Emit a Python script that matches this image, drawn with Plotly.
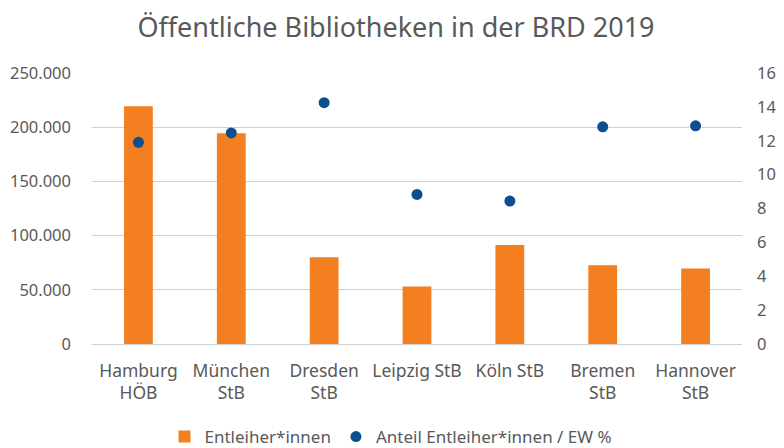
import plotly.graph_objects as go

categories = ["Hamburg<br>HÖB", "München<br>StB", "Dresden<br>StB", "Leipzig StB",
              "Köln StB", "Bremen<br>StB", "Hannover<br>StB"]
entleiher = [219300, 194400, 80000, 53000, 91400, 72700, 69600]
anteil_pct = [11.91, 12.46, 14.25, 8.83, 8.44, 12.82, 12.88]

FONT = "Noto Sans"
GRAY = "#595959"
W, H = 776, 440  # page body has an 8px margin

fig = go.Figure()
fig.add_trace(go.Bar(
    x=categories, y=entleiher, name="Entleiher*innen",
    marker=dict(color="#F47F20", line=dict(width=0)),
    width=0.31, yaxis="y",
))
fig.add_trace(go.Scatter(
    x=categories, y=anteil_pct, name="Anteil Entleiher*innen / EW %",
    mode="markers", marker=dict(color="#0C4E8E", size=11),
    yaxis="y2",
))

fig.update_layout(
    width=W, height=H,
    paper_bgcolor="white", plot_bgcolor="white",
    separators=",.",
    margin=dict(l=84, r=42, t=65, b=104),
    title=dict(text="Öffentliche Bibliotheken in der BRD 2019",
               x=0.5, xanchor="center", y=1 - 20 / H, yanchor="middle",
               font=dict(family=FONT, size=27, color=GRAY)),
    font=dict(family=FONT, size=16.5, color=GRAY),
    xaxis=dict(showgrid=False, ticks="", showline=False, automargin=False,
               ticklabelstandoff=14,
               tickfont=dict(family=FONT, size=17.5, color=GRAY)),
    yaxis=dict(range=[0, 250000], dtick=50000, tickformat=",d",
               showgrid=True, gridcolor="#D0D0D0", gridwidth=1.3,
               zeroline=True, zerolinecolor="#D0D0D0", zerolinewidth=1.3,
               ticks="", ticklabelstandoff=20, automargin=False,
               tickfont=dict(family=FONT, size=16.5, color=GRAY)),
    yaxis2=dict(range=[0, 16], dtick=2, overlaying="y", side="right",
                showgrid=False, zeroline=False, ticks="", ticklabelstandoff=14,
                automargin=False,
                tickfont=dict(family=FONT, size=16.5, color=GRAY)),
    legend=dict(orientation="h", x=0.46, xanchor="center",
                yref="container", y=1 - 429 / H, yanchor="middle",
                font=dict(family=FONT, size=17, color=GRAY),
                itemwidth=30, traceorder="normal"),
)

fig.write_html("out.html")
